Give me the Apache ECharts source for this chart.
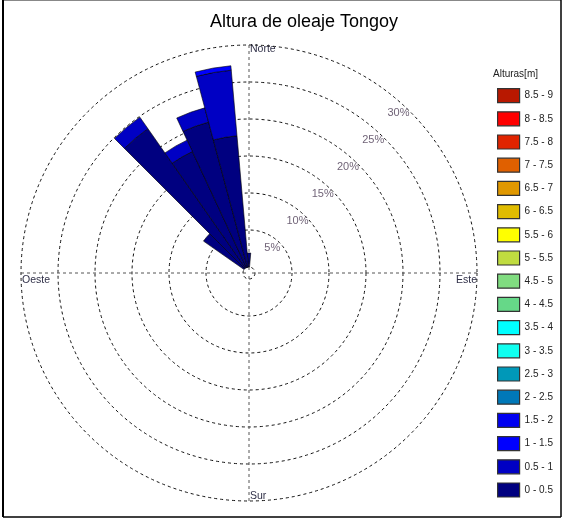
<!DOCTYPE html>
<html>
<head>
<meta charset="utf-8">
<script src="https://cdn.jsdelivr.net/npm/echarts@6/dist/echarts.min.js"></script>
<style>
html,body{margin:0;padding:0;background:#fff;}
#chart{width:564px;height:519px;}
</style>
</head>
<body>
<div id="chart"></div>
<script>
// Directions (degrees, 10° sectors, clockwise from North)
const directions = ['0','10','20','30','40','50','60','70','80','90','100','110','120','130','140','150','160','170',
  '180','190','200','210','220','230','240','250','260','270','280','290','300','310','320','330','340','350'];

// Height classes (bottom of stack first)
const heightClasses = ['0 - 0.5','0.5 - 1','1 - 1.5','1.5 - 2','2 - 2.5','2.5 - 3','3 - 3.5','3.5 - 4','4 - 4.5',
  '4.5 - 5','5 - 5.5','5.5 - 6','6 - 6.5','6.5 - 7','7 - 7.5','7.5 - 8','8 - 8.5','8.5 - 9'];

const classColors = ['#000080','#0000c4','#0000ff','#0000f0','#0078b8','#0098b8','#10fff0','#00ffff','#66d888',
  '#80dc80','#c0dc40','#ffff00','#e0bc00','#e09800','#e06000','#e02400','#ff0000','#b81800'];

// Frequency (%) per direction for each height class
const freq_0_05 = [1.9,0,0,0,0,0,0,0,0,0,0,0,0,0,0,0,0,0, 0,0,0,0,0,0,0,0,0,0,0,0,0,6.7,23.0,17.3,20.3,17.8];
const freq_05_1 = [0,0,0,0,0,0,0,0,0,0,0,0,0,0,0,0,0,0, 0,0,0,0,0,0,0,0,0,0,0,0,0,0,1.9,1.7,2.0,8.9];
const freq_1_15 = [0,0,0,0,0,0,0,0,0,0,0,0,0,0,0,0,0,0, 0,0,0,0,0,0,0,0,0,0,0,0,0,0,0,0,0,0.6];
const freqByClass = [freq_0_05, freq_05_1, freq_1_15];

// Radial tick labels
const radialTicks = [5,10,15,20,25,30];
const cardinalLabels = ['Norte','Este','Sur','Oeste'];

const CX = 249, CY = 273, R0 = 6, R1 = 228;
const FONT = 'Liberation Sans, Arial, sans-serif';

const chart = echarts.init(document.getElementById('chart'), null, {renderer:'canvas'});

const series = heightClasses.map((name, i) => {
  const arr = freqByClass[i] || [];
  return {
    name: name,
    type: 'bar',
    coordinateSystem: 'polar',
    polarIndex: 0,
    stack: 'rose',
    barCategoryGap: '0%',
    itemStyle: {color: classColors[i], borderColor: '#000', borderWidth: 0.6},
    emphasis: {disabled: true},
    data: directions.map((d, k) => (arr[k] > 0 ? arr[k] : '-'))
  };
});

series.push({
  type: 'scatter',
  coordinateSystem: 'polar',
  polarIndex: 1,
  symbolSize: 0,
  silent: true,
  z: 5,
  label: {
    show: true, position: 'inside', fontSize: 11, fontFamily: FONT, color: '#4a3a52',
    formatter: p => p.data[2] + '%'
  },
  data: radialTicks.map(t => [t - 1.2, 43, t])
});

const option = {
  backgroundColor: '#fff',
  animation: false,
  polar: [
    {center: [CX, CY], radius: [R0, R1]},
    {center: [CX, CY], radius: [R0, R1]},
    {center: [CX, CY], radius: [0, R1]}
  ],
  angleAxis: [
    {polarIndex: 0, type: 'category', data: directions, startAngle: 95, clockwise: true,
     axisLine: {show: false}, axisTick: {show: false}, axisLabel: {show: false}, splitLine: {show: false}},
    {polarIndex: 1, type: 'value', min: 0, max: 360, interval: 90, startAngle: 90, clockwise: true,
     axisLine: {show: false}, axisTick: {show: false}, axisLabel: {show: false}, splitLine: {show: false}},
    {polarIndex: 2, type: 'value', min: 0, max: 360, interval: 90, startAngle: 90, clockwise: true,
     axisLine: {show: false}, axisTick: {show: false}, axisLabel: {show: false},
     splitLine: {show: true, lineStyle: {color: '#555', width: 1, type: [3, 3]}}}
  ],
  radiusAxis: [
    {polarIndex: 0, type: 'value', min: 0, max: 30, interval: 5,
     axisLine: {show: false}, axisTick: {show: false}, axisLabel: {show: false}, splitLine: {show: false}},
    {polarIndex: 1, type: 'value', min: 0, max: 30, interval: 5,
     axisLine: {show: false}, axisTick: {show: false}, axisLabel: {show: false},
     splitLine: {show: true, lineStyle: {color: '#111', width: 1, type: [3, 3]}}},
    {polarIndex: 2, type: 'value', min: 0, max: 30,
     axisLine: {show: false}, axisTick: {show: false}, axisLabel: {show: false}, splitLine: {show: false}}
  ],
  legend: {
    orient: 'vertical', left: 497, top: 88, height: 425, padding: 0,
    itemWidth: 22, itemHeight: 14, itemGap: 8,
    icon: 'rect', selectedMode: false,
    data: heightClasses.slice().reverse(),
    itemStyle: {borderColor: '#333', borderWidth: 1.2},
    textStyle: {fontSize: 10, fontFamily: FONT, color: '#222', lineHeight: 15}
  },
  graphic: [
    {type: 'text', x: 304, y: 22, silent: true,
     style: {text: 'Altura de oleaje Tongoy', font: '18px ' + FONT, fill: '#000', align: 'center', verticalAlign: 'middle'}},
    {type: 'text', x: 493, y: 74, silent: true,
     style: {text: 'Alturas[m]', font: '10px ' + FONT, fill: '#222', align: 'left', verticalAlign: 'middle'}},
    {type: 'text', x: CX + 1, y: CY - R1 - 1, silent: true,
     style: {text: cardinalLabels[0], font: '10.5px ' + FONT, fill: '#303048', align: 'left', verticalAlign: 'top'}},
    {type: 'text', x: CX + R1, y: CY + 2, silent: true,
     style: {text: cardinalLabels[1], font: '10.5px ' + FONT, fill: '#303048', align: 'right', verticalAlign: 'top'}},
    {type: 'text', x: CX + 1, y: CY + R1 + 1, silent: true,
     style: {text: cardinalLabels[2], font: '10.5px ' + FONT, fill: '#303048', align: 'left', verticalAlign: 'bottom'}},
    {type: 'text', x: CX - R1 + 1, y: CY + 2, silent: true,
     style: {text: cardinalLabels[3], font: '10.5px ' + FONT, fill: '#303048', align: 'left', verticalAlign: 'top'}},
    {type: 'line', silent: true, shape: {x1: 3, y1: 0.5, x2: 561, y2: 0.5}, style: {stroke: '#888', lineWidth: 1}},
    {type: 'line', silent: true, shape: {x1: 3, y1: 0, x2: 3, y2: 517}, style: {stroke: '#000', lineWidth: 2}},
    {type: 'line', silent: true, shape: {x1: 561, y1: 0, x2: 561, y2: 517}, style: {stroke: '#000', lineWidth: 1.5}},
    {type: 'line', silent: true, shape: {x1: 3, y1: 517, x2: 561, y2: 517}, style: {stroke: '#000', lineWidth: 1.5}}
  ],
  series: series
};

chart.setOption(option);
</script>
</body>
</html>
